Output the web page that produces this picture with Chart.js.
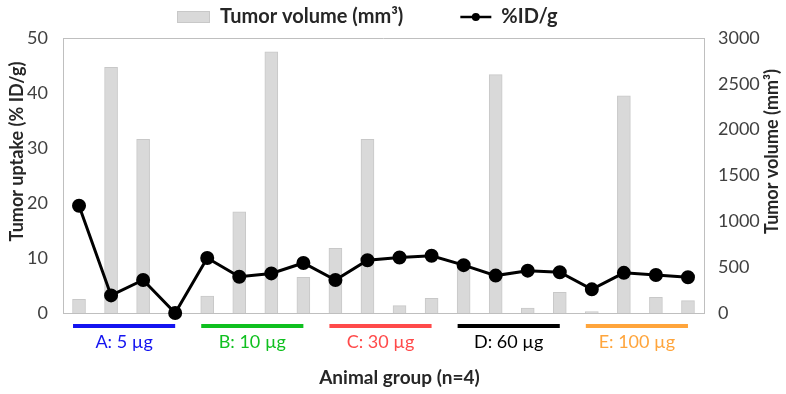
<!DOCTYPE html>
<html>
<head>
<meta charset="utf-8">
<script src="https://cdn.jsdelivr.net/npm/chart.js@4.4.0/dist/chart.umd.min.js"></script>
<style>
  html, body { margin: 0; padding: 0; background: #fff; }
  #wrap { width: 786px; height: 394px; }
</style>
</head>
<body>
<div id="wrap"><canvas id="chart"></canvas></div>
<script>
// animals, 4 per dose group
const animals = ["A1", "A2", "A3", "A4", "B1", "B2", "B3", "B4", "C1", "C2",
  "C3", "C4", "D1", "D2", "D3", "D4", "E1", "E2", "E3", "E4"];
// tumor volume (mm3), right axis
const tumorVolume = [150, 2680, 1895, 0, 185, 1105, 2850, 390, 705, 1895,
  80, 160, 565, 2600, 55, 225, 15, 2370, 170, 135];
// tumor uptake (%ID/g), left axis
const uptake = [19.5, 3.2, 6.0, 0, 10.0, 6.6, 7.2, 9.1, 6.0, 9.6,
  10.1, 10.4, 8.7, 6.8, 7.7, 7.4, 4.3, 7.3, 6.9, 6.5];

const groupNames = ["A: 5 µg", "B: 10 µg", "C: 30 µg", "D: 60 µg", "E: 100 µg"];
const groupColors = ["#1414f0", "#10c020", "#ff4a4a", "#000000", "#ffa53c"];
const groupSize = 4;

const leftMax = 50, leftStep = 10;
const rightMax = 3000, rightStep = 500;

const FONT = "Lato, 'Open Sans', sans-serif";
const TXT = "#262626";

// frame, legend, axis titles and dose group bars/labels
const extrasPlugin = {
  id: "extras",
  afterDraw(chart) {
    const ctx = chart.ctx;
    const area = chart.chartArea;
    const x = chart.scales.x;
    const ds = chart.data.datasets;
    ctx.save();

    // top edge of the frame
    ctx.strokeStyle = "#bfbfbf";
    ctx.lineWidth = 1;
    ctx.beginPath();
    ctx.moveTo(area.left, area.top + 0.5);
    ctx.lineTo(area.right, area.top + 0.5);
    ctx.stroke();

    // legend
    ctx.font = "bold 20px " + FONT;
    ctx.textBaseline = "middle";
    ctx.textAlign = "left";
    let lx = area.left + 114;
    const ly = 17;
    ctx.fillStyle = ds[0].backgroundColor;
    ctx.fillRect(lx, ly - 6, 33, 12);
    ctx.strokeStyle = ds[0].borderColor;
    ctx.strokeRect(lx + 0.5, ly - 5.5, 32, 11);
    lx += 43;
    ctx.fillStyle = TXT;
    ctx.fillText(ds[0].label, lx, ly);
    lx += ctx.measureText(ds[0].label).width + 57;
    ctx.strokeStyle = "#000";
    ctx.lineWidth = 2.5;
    ctx.beginPath();
    ctx.moveTo(lx, ly);
    ctx.lineTo(lx + 31, ly);
    ctx.stroke();
    ctx.fillStyle = "#000";
    ctx.beginPath();
    ctx.arc(lx + 15.5, ly, 4, 0, Math.PI * 2);
    ctx.fill();
    lx += 41;
    ctx.fillStyle = TXT;
    ctx.fillText(ds[1].label, lx, ly);

    // y axis titles, both read bottom to top
    const midY = (area.top + area.bottom) / 2 - 24;
    ctx.textAlign = "center";
    ctx.font = "bold 18px " + FONT;
    ctx.fillStyle = TXT;
    [["Tumor uptake (% ID/g)", 17], ["Tumor volume (mm³)", chart.width - 14]].forEach(([t, tx]) => {
      ctx.save();
      ctx.translate(tx, midY);
      ctx.rotate(-Math.PI / 2);
      ctx.fillText(t, 0, 0);
      ctx.restore();
    });

    // x axis title
    ctx.font = "bold 19px " + FONT;
    ctx.fillText("Animal group (n=4)", (area.left + area.right) / 2 + 16, area.bottom + 65);

    // dose groups
    groupNames.forEach((name, i) => {
      const x0 = x.getPixelForValue(i * groupSize) - 6;
      const x1 = x.getPixelForValue(i * groupSize + groupSize - 1);
      ctx.strokeStyle = groupColors[i];
      ctx.lineWidth = 4;
      ctx.beginPath();
      ctx.moveTo(x0, area.bottom + 13);
      ctx.lineTo(x1, area.bottom + 13);
      ctx.stroke();
      ctx.fillStyle = groupColors[i];
      ctx.font = "18px " + FONT;
      ctx.textAlign = "center";
      ctx.fillText(name, (x0 + x1) / 2, area.bottom + 29);
    });
    ctx.restore();
  }
};

new Chart(document.getElementById("chart"), {
  data: {
    labels: animals,
    datasets: [
      {
        type: "bar",
        label: "Tumor volume (mm³)",
        data: tumorVolume,
        yAxisID: "y1",
        backgroundColor: "#d9d9d9",
        borderColor: "#c8c8c8",
        borderWidth: 1,
        barThickness: 13,
        order: 2
      },
      {
        type: "line",
        label: "%ID/g",
        data: uptake,
        yAxisID: "y",
        borderColor: "#000",
        backgroundColor: "#000",
        borderWidth: 3,
        pointRadius: 5.5,
        pointBackgroundColor: "#000",
        tension: 0,
        clip: false,
        order: 1
      }
    ]
  },
  options: {
    responsive: true,
    maintainAspectRatio: false,
    animation: false,
    layout: { padding: { top: 38 } },
    plugins: {
      tooltip: { enabled: false },
      legend: { display: false }
    },
    scales: {
      x: {
        grid: { display: false },
        border: { color: "#bfbfbf" },
        ticks: { display: false },
        afterFit(scale) { scale.height = 81; }
      },
      y: {
        position: "left",
        min: 0,
        max: leftMax,
        grid: { display: false },
        border: { color: "#bfbfbf" },
        ticks: {
          stepSize: leftStep,
          padding: 7,
          color: "#404040",
          font: { family: FONT, size: 18 }
        },
        afterFit(scale) { scale.width = 63; }
      },
      y1: {
        position: "right",
        min: 0,
        max: rightMax,
        grid: { display: false },
        border: { color: "#bfbfbf" },
        ticks: {
          stepSize: rightStep,
          padding: 6,
          color: "#404040",
          font: { family: FONT, size: 18 },
          callback: (v) => String(v)
        },
        afterFit(scale) { scale.width = 82; }
      }
    }
  },
  plugins: [extrasPlugin]
});
</script>
</body>
</html>
